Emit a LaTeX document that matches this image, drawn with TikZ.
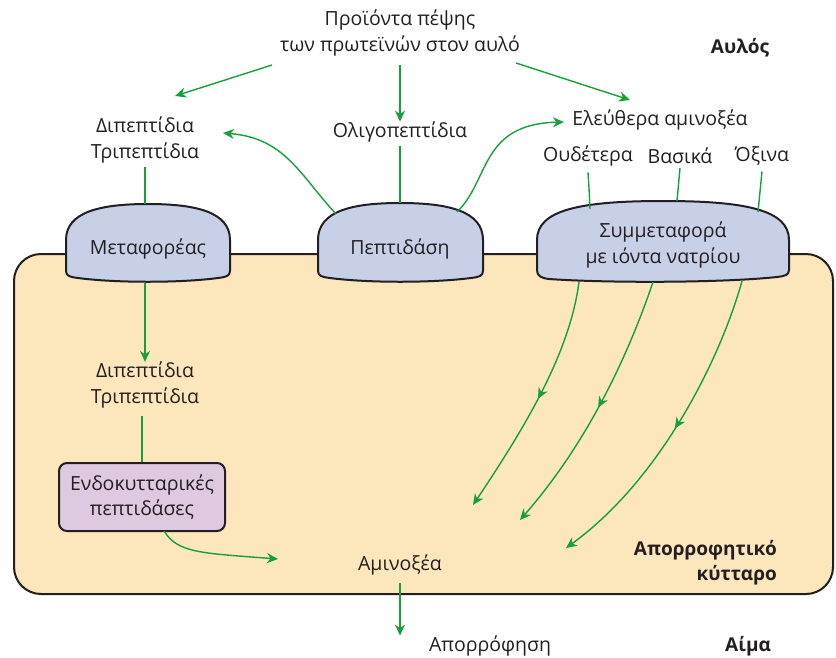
\documentclass[tikz,border=0pt]{standalone}
\usepackage{fontspec}
\setmainfont{Open Sans}
\usetikzlibrary{arrows.meta,decorations.markings,calc}
\definecolor{flowgreen}{HTML}{16A03C}
\definecolor{cellfill}{HTML}{FCE6BB}
\definecolor{carrierfill}{HTML}{C8D0E8}
\definecolor{enzfill}{HTML}{DFC9E1}
\definecolor{inkline}{HTML}{231F20}
\begin{document}
\begin{tikzpicture}[x=1pt,y=-1pt,
  lbl/.style={font=\fontsize{19.5}{25.5}\selectfont, text=inkline, align=center, inner sep=0pt},
  boldlbl/.style={font=\fontsize{19}{25}\selectfont\bfseries, text=inkline, align=right, inner sep=0pt},
  link/.style={draw=flowgreen, line width=1.4pt},
  flow/.style={link, -{Stealth[length=11pt,width=10pt,inset=3.5pt]}},
  midflow/.style={link, -{Stealth[length=11pt,width=10pt,inset=3.5pt]},
    postaction={decorate},
    decoration={markings, mark=at position #1 with {\arrow{Stealth[length=11pt,width=10pt,inset=3.5pt]}}}},
  membrane/.style={draw=inkline, line width=2pt, line join=round},
]
\useasboundingbox (0,0) rectangle (836,657);

% absorptive cell
\draw[membrane, fill=cellfill, rounded corners=27pt] (14,254) rectangle (833,594);

% membrane carriers
\draw[membrane, fill=carrierfill]
  (66,240) .. controls (66,212) and (100,204) .. (148,204)
  .. controls (196,204) and (230,212) .. (230,240) -- (230,271)
  .. controls (230,276) and (226,277) .. (218,278)
  .. controls (180,283) and (116,283) .. (78,278)
  .. controls (70,277) and (66,276) .. (66,271) -- cycle;
\draw[membrane, fill=carrierfill]
  (318,240) .. controls (318,211) and (352,203) .. (400,203)
  .. controls (448,203) and (483,211) .. (483,240) -- (483,271)
  .. controls (483,276) and (479,277) .. (471,278)
  .. controls (432,283) and (368,283) .. (330,278)
  .. controls (322,277) and (318,276) .. (318,271) -- cycle;
\draw[membrane, fill=carrierfill]
  (537,240) .. controls (537,210) and (580,201) .. (663,201)
  .. controls (746,201) and (789,210) .. (789,240) -- (789,270)
  .. controls (789,275) and (785,276) .. (777,277)
  .. controls (720,283) and (606,283) .. (549,279)
  .. controls (541,278) and (537,276) .. (537,270) -- cycle;

% texts
\node[lbl] (prod) at (400,33) {Προϊόντα πέψης\\των πρωτεϊνών στον αυλό};
\node[boldlbl] (lumen) at (740,48) {Αυλός};
\node[lbl] (dipout) at (145,140) {Διπεπτίδια\\Τριπεπτίδια};
\node[lbl] (oligo) at (400,132) {Ολιγοπεπτίδια};
\node[lbl] (free) at (660,120) {Ελεύθερα αμινοξέα};
\node[lbl] (neutral) at (588,156) {Ουδέτερα};
\node[lbl] (basic) at (680,156) {Βασικά};
\node[lbl] (acidic) at (762,156) {Όξινα};
\node[lbl] (carrier) at (148,249) {Μεταφορέας};
\node[lbl] (peptidase) at (400,249) {Πεπτιδάση};
\node[lbl] (cotrans) at (663,245) {Συμμεταφορά\\με ιόντα νατρίου};
\node[lbl] (dipin) at (145,385) {Διπεπτίδια\\Τριπεπτίδια};
\node[lbl, draw=inkline, line width=2pt, fill=enzfill, rounded corners=8pt,
      minimum width=166pt, minimum height=68pt] (endo) at (142,497)
      {Ενδοκυτταρικές\\πεπτιδάσες};
\node[lbl] (amino) at (400,565) {Αμινοξέα};
\node[boldlbl, anchor=east] (cell) at (777,563) {Απορροφητικό\\κύτταρο};
\node[lbl] (absorb) at (490,646) {Απορρόφηση};
\node[boldlbl] (blood) at (748,646) {Αίμα};

% connector end points
\coordinate (prodL) at (272,65);
\coordinate (prodR) at (516,63);
\coordinate (dipTip) at (175,96);
\coordinate (freeTip) at (630,100);
\coordinate (carTop) at (145,204);
\coordinate (carBot) at (145,283);
\coordinate (pepTop) at (400,203);
\coordinate (pepL) at (336,214);
\coordinate (pepR) at (457,212);
\coordinate (dipSide) at (223,133);
\coordinate (freeSide) at (564,122);
\coordinate (ctA) at (590,209);
\coordinate (ctB) at (677,201);
\coordinate (ctC) at (758,212);
\coordinate (outA) at (579,282);
\coordinate (outB) at (653,282);
\coordinate (outC) at (742,281);
\coordinate (inA) at (473,505);
\coordinate (inB) at (520,520);
\coordinate (inC) at (566,548);
\coordinate (endoOut) at (164,531);
\coordinate (aminoIn) at (278,559);

% lumen side
\draw[flow] (prodL) -- (dipTip);
\draw[flow] (prod.south |- 0,65) -- (oligo.north);
\draw[flow] (prodR) -- (freeTip);
\draw[link] (dipout.south) ++(0,4) -- (carTop);
\draw[link] (oligo.south) ++(0,4) -- (pepTop);
\draw[flow] (pepL) .. controls (300,175) and (285,138) .. (dipSide);
\draw[flow] (pepR) .. controls (490,180) and (480,124) .. (freeSide);
\draw[link] (neutral.south) ++(0,6) .. controls +(1,15) .. (ctA);
\draw[link] (basic.south) ++(0,4) -- (ctB);
\draw[link] (acidic.south) ++(0,6) -- (ctC);

% inside the cell
\draw[flow] (carBot) -- (dipin.north);
\draw[link] (dipin.south) ++(-3,8) -- (endo.north);
\draw[midflow=0.5] (outA) .. controls (570,350) and (530,420) .. (inA);
\draw[midflow=0.5] (outB) .. controls (630,350) and (590,440) .. (inB);
\draw[midflow=0.5] (outC) .. controls (720,360) and (660,480) .. (inC);
\draw[flow] (endoOut) .. controls (178,553) and (200,553) .. (aminoIn);
\draw[flow] (amino.south) ++(0,8) -- (absorb.north -| amino.south);
\end{tikzpicture}
\end{document}
